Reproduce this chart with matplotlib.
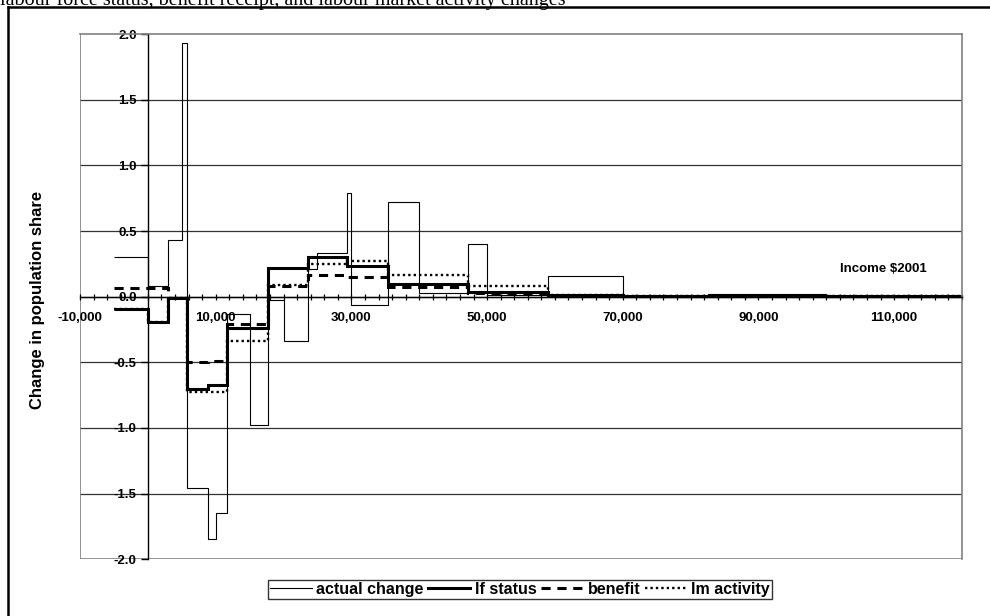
import numpy as np
import matplotlib
matplotlib.use('Agg')
import matplotlib.pyplot as plt
from matplotlib.lines import Line2D

plt.rcParams['font.family'] = ['Liberation Sans', 'DejaVu Sans']

# income bin edges ($2001) and change in population share per bin
edges = [-5000, 0, 3000, 5000, 5800, 8800, 10000, 11700, 15000, 17700, 20000,
         23600, 25000, 29400, 30000, 35400, 40000, 47200, 50000, 59000, 70000,
         82500, 100000, 120000]
actual = [0.30, 0.08, 0.43, 1.93, -1.46, -1.85, -1.65, -0.13, -0.98, -0.025,
          -0.335, 0.21, 0.33, 0.79, -0.063, 0.72, 0.03, 0.40, 0.01, 0.158,
          0.0, 0.023, 0.0]
lf_status = [-0.096, -0.195, -0.01, -0.01, -0.70, -0.673, -0.673, -0.24, -0.24,
             0.216, 0.216, 0.305, 0.305, 0.234, 0.234, 0.10, 0.10, 0.038, 0.038,
             0.01, 0.005, 0.005, 0.005]
benefit = [0.064, 0.07, -0.01, -0.01, -0.495, -0.49, -0.49, -0.208, -0.208,
           0.082, 0.082, 0.163, 0.163, 0.148, 0.148, 0.074, 0.074, 0.03, 0.03,
           0.008, 0.005, 0.005, 0.005]
lm_activity = [-0.096, -0.19, -0.01, -0.01, -0.724, -0.724, -0.724, -0.335,
               -0.335, 0.09, 0.09, 0.247, 0.247, 0.275, 0.275, 0.168, 0.168,
               0.08, 0.08, 0.012, 0.008, 0.008, 0.008]

x_labels = ['-10,000', '10,000', '30,000', '50,000', '70,000', '90,000', '110,000']
x_label_pos = [-10000, 10000, 30000, 50000, 70000, 90000, 110000]

W, H = 990, 616
fig = plt.figure(figsize=(W / 100, H / 100), dpi=100)
ax = fig.add_axes([80 / W, 1 - 559.1 / H, (962 - 80) / W, (559.1 - 34.3) / H])

ax.stairs(actual, edges, baseline=None, color='black', lw=0.8, label='actual change')
ax.stairs(lf_status, edges, baseline=None, color='black', lw=2.2, label='lf status')
ax.stairs(benefit, edges, baseline=None, color='black', lw=2.2,
          linestyle=(0, (3, 2.2)), label='benefit')
ax.stairs(lm_activity, edges, baseline=None, color='black', lw=1.7,
          linestyle=(0, (1, 1.3)), label='lm activity')

ax.set_xlim(-10000, 120000)
ax.set_ylim(-2, 2)

# gridlines and gray plot-area border
for y in np.arange(-1.5, 2.0, 0.5):
    ax.axhline(y, color='#333333', lw=0.9, zorder=0)
ax.axvline(-10000, color='#808080', lw=1.2, zorder=0)
ax.axhline(-2, color='#808080', lw=1.2, zorder=0)
for s in ['top', 'right']:
    ax.spines[s].set_color('#808080')
    ax.spines[s].set_linewidth(1.2)
ax.spines['left'].set_position(('data', 0))
ax.spines['bottom'].set_position(('data', 0))
ax.spines['left'].set_linewidth(1.0)
ax.spines['bottom'].set_linewidth(1.0)

yt = np.arange(-2, 2.01, 0.5)
ax.set_yticks(yt)
ax.set_yticklabels(['%.1f' % v for v in yt], fontweight='bold', fontsize=9.5)
ax.tick_params(axis='y', direction='out', length=5, width=1, pad=3)

xt = np.arange(-10000, 120001, 2000)
ax.set_xticks(xt)
ax.set_xticklabels([x_labels[x_label_pos.index(v)] if v in x_label_pos else ''
                    for v in xt], fontweight='bold', fontsize=9.5)
ax.tick_params(axis='x', direction='inout', length=5, width=0.9, pad=8.5)

ax.text(102000, 0.21, r'Income \$2001', fontweight='bold', fontsize=9.5, va='center')

fig.text(38 / W, 1 - 300 / H, 'Change in population share', rotation=90,
         ha='center', va='center', fontweight='bold', fontsize=12)

leg = ax.legend(loc='center', bbox_to_anchor=(520 / W, 1 - 589.5 / H),
                bbox_transform=fig.transFigure, ncol=4, frameon=True,
                fancybox=False, prop={'weight': 'bold', 'size': 11.5},
                handlelength=2.6, handletextpad=0.3, columnspacing=0.3,
                borderpad=0.15, borderaxespad=0)
leg.get_frame().set_edgecolor('black')
leg.get_frame().set_linewidth(1.0)

# title cut off by the top edge, as in the source page, and outer frame
fig.text(0 / W, 1 - 4.5 / H, 'labour force status, benefit receipt, and labour market activity changes',
         family='Liberation Serif', fontsize=14.5, va='baseline', ha='left')
fig.add_artist(Line2D([8 / W, 8 / W], [0, 1 - 7 / H], transform=fig.transFigure,
                      color='black', lw=1.8))
fig.add_artist(Line2D([8 / W, 1], [1 - 7 / H, 1 - 7 / H], transform=fig.transFigure,
                      color='black', lw=1.8))

fig.savefig('out.png', dpi=100, facecolor='white')
